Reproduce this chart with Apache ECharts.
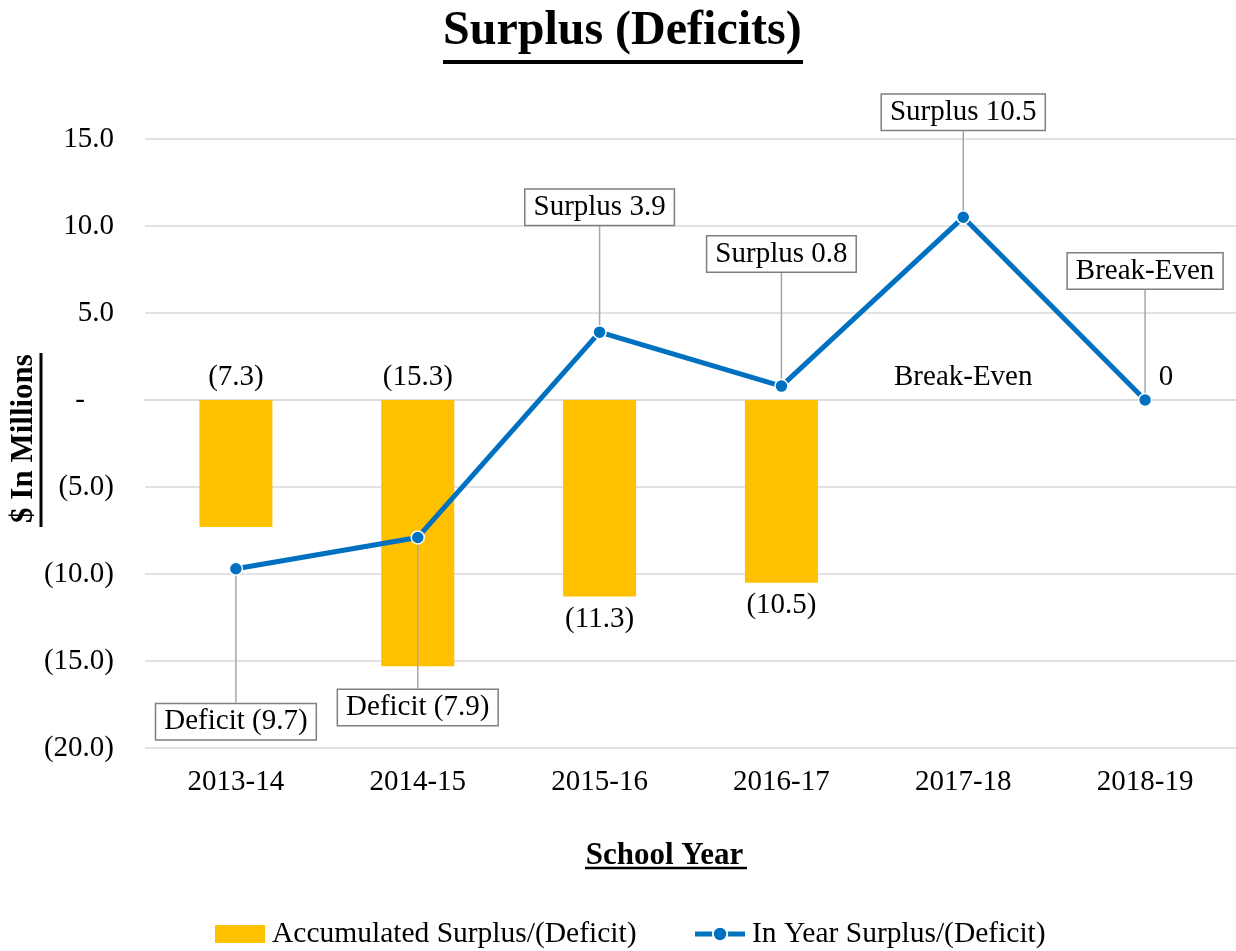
<!DOCTYPE html>
<html>
<head>
<meta charset="utf-8">
<title>Surplus (Deficits)</title>
<script src="https://cdn.jsdelivr.net/npm/echarts@6/dist/echarts.min.js"></script>
<style>
  html, body { margin: 0; padding: 0; background: #fff; }
  #chart { width: 1236px; height: 951px; }
</style>
</head>
<body>
<div id="chart"></div>
<script>
// data
const categories = ['2013-14', '2014-15', '2015-16', '2016-17', '2017-18', '2018-19'];
const accumulated = [-7.3, -15.3, -11.3, -10.5, 0, 0];
const accumulatedLabels = ['(7.3)', '(15.3)', '(11.3)', '(10.5)', 'Break-Even', '0'];
const inYear = [-9.7, -7.9, 3.9, 0.8, 10.5, 0];
const inYearLabels = ['Deficit (9.7)', 'Deficit (7.9)', 'Surplus 3.9', 'Surplus 0.8', 'Surplus 10.5', 'Break-Even'];
const yMin = -20, yMax = 15, yStep = 5;

// label placement (style, not data)
const barLabelPos = ['top', 'top', 'bottom', 'bottom', 'top', 'top'];
const barLabelShift = [[0, 0], [0, 0], [0, 0], [0, 0], [0, 0], [21, 0]];
const calloutDy = [153, 170, -125, -132, -105, -129];

const FONT = '"Liberation Serif", "Times New Roman", serif';
const BLUE = '#0070C0';
const GOLD = '#FFC000';
const FS = 29;

function fmtTick(v) {
  if (v === 0) return '-    ';
  if (v < 0) return '(' + (-v).toFixed(1) + ')';
  return v.toFixed(1);
}

const chart = echarts.init(document.getElementById('chart'));

const option = {
  animation: false,
  textStyle: { fontFamily: FONT, color: '#000' },
  title: {
    text: 'Surplus (Deficits)',
    left: 438,
    top: 3,
    textStyle: { fontFamily: FONT, fontSize: 48, fontWeight: 'bold', color: '#000' }
  },
  legend: {
    bottom: -3,
    left: 210,
    itemWidth: 50,
    itemHeight: 18,
    itemGap: 56,
    textStyle: { fontFamily: FONT, fontSize: 29.5, color: '#000', padding: [0, 0, 0, 2] },
    data: [
      { name: 'Accumulated Surplus/(Deficit)', icon: 'rect' },
      { name: 'In Year Surplus/(Deficit)' }
    ],
    lineStyle: { width: 5 }
  },
  grid: { left: 145, right: 0, top: 139, bottom: 203, outerBoundsMode: 'none' },
  xAxis: {
    type: 'category',
    data: categories,
    name: 'School Year',
    nameLocation: 'middle',
    nameGap: 92,
    nameTextStyle: { fontFamily: FONT, fontSize: 31, fontWeight: 'bold', color: '#000', padding: [0, 52, 0, 0] },
    axisLine: { lineStyle: { color: '#d9d9d9', width: 1.5 } },
    axisTick: { show: false },
    axisLabel: { fontFamily: FONT, fontSize: FS, color: '#000', margin: 20 }
  },
  yAxis: {
    type: 'value',
    min: yMin,
    max: yMax,
    interval: yStep,
    name: '$ In Millions',
    nameLocation: 'middle',
    nameGap: 106,
    nameMoveOverlap: false,
    nameTextStyle: { fontFamily: FONT, fontSize: 31, fontWeight: 'bold', color: '#000', padding: [0, 0, 0, 10] },
    axisLine: { show: false },
    axisTick: { show: false },
    splitLine: { lineStyle: { color: '#d9d9d9', width: 1.5 } },
    axisLabel: { fontFamily: FONT, fontSize: FS, color: '#000', margin: 31, formatter: fmtTick }
  },
  graphic: [
    // underlines for the bold headings
    { type: 'line', shape: { x1: 443, y1: 62, x2: 803, y2: 62 }, style: { stroke: '#000', lineWidth: 4 } },
    { type: 'line', shape: { x1: 585, y1: 868, x2: 747, y2: 868 }, style: { stroke: '#000', lineWidth: 2.5 } },
    { type: 'line', shape: { x1: 41, y1: 353, x2: 41, y2: 527 }, style: { stroke: '#000', lineWidth: 3 } }
  ],
  series: [
    {
      name: 'Accumulated Surplus/(Deficit)',
      type: 'bar',
      barWidth: 73,
      itemStyle: { color: GOLD },
      data: accumulated.map((v, i) => ({
        value: v,
        label: {
          show: true,
          position: barLabelPos[i],
          offset: barLabelShift[i],
          distance: 8,
          formatter: accumulatedLabels[i],
          fontFamily: FONT,
          fontSize: FS,
          color: '#000'
        }
      })),
      z: 2
    },
    {
      name: 'In Year Surplus/(Deficit)',
      type: 'line',
      data: inYear,
      symbol: 'circle',
      symbolSize: 13,
      lineStyle: { color: BLUE, width: 5 },
      itemStyle: { color: BLUE, borderColor: '#fff', borderWidth: 1.5 },
      label: {
        show: true,
        position: 'inside',
        formatter: (p) => inYearLabels[p.dataIndex],
        fontFamily: FONT,
        fontSize: FS,
        color: '#000',
        backgroundColor: '#fff',
        borderColor: '#7f7f7f',
        borderWidth: 1.5,
        padding: [4, 8, 2, 8]
      },
      labelLine: { show: true, lineStyle: { color: '#a6a6a6', width: 1.5 } },
      labelLayout: (p) => ({ dy: calloutDy[p.dataIndex] }),
      z: 5
    }
  ]
};

chart.setOption(option);
window.onresize = function () {
  chart.resize();
};
</script>
</body>
</html>
